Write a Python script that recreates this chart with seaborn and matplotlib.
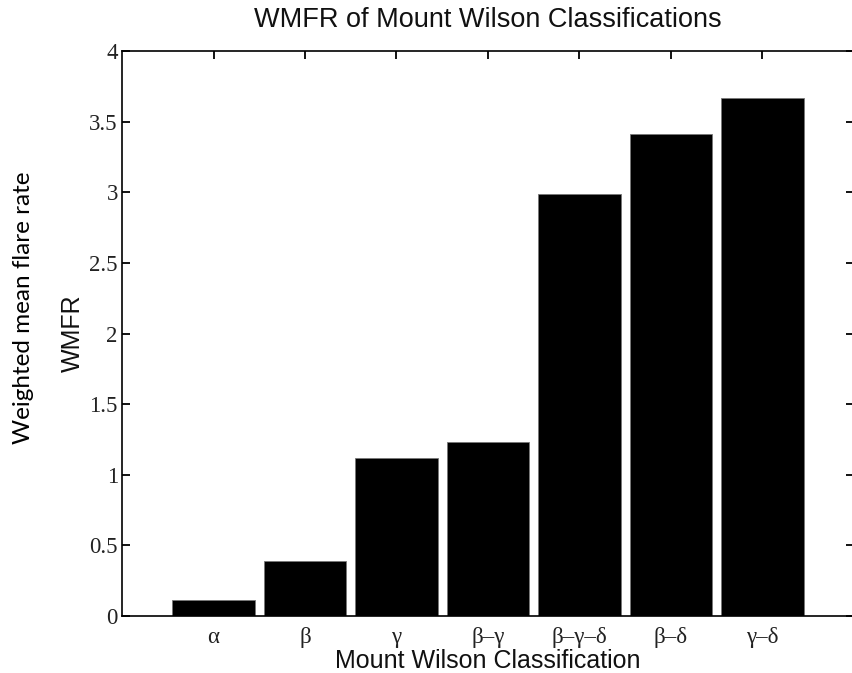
import numpy as np
import pandas as pd
import matplotlib
matplotlib.use('Agg')
import matplotlib.pyplot as plt
import seaborn as sns

sns.set_theme(style='white')

classes = ['α', 'β', 'γ', 'β–γ', 'β–γ–δ', 'β–δ', 'γ–δ']
wmfr = [0.113, 0.39, 1.12, 1.23, 2.99, 3.41, 3.67]

df = pd.DataFrame({'cls': classes, 'wmfr': wmfr})

fig = plt.figure(figsize=(8.52, 6.73), dpi=100)
ax = fig.add_axes([0.1432, 0.0847, 0.8591, 0.8395])

sns.barplot(data=df, x='cls', y='wmfr', order=classes, color='black',
            width=0.9, edgecolor='#777777', linewidth=0.6, saturation=1, ax=ax)

ax.set_xlim(-1, 7)
ax.set_ylim(0, 4)
ax.set_yticks(np.arange(0, 4.01, 0.5))
ax.set_yticklabels(['0', '0.5', '1', '1.5', '2', '2.5', '3', '3.5', '4'])

for s in ax.spines.values():
    s.set_color('black')
    s.set_linewidth(1.2)

ax.tick_params(direction='in', length=6, width=1.3, color='black',
               top=True, right=True, bottom=True, left=True)
ax.tick_params(axis='x', pad=8)
ax.tick_params(axis='y', pad=3)
for lab in ax.get_xticklabels() + ax.get_yticklabels():
    lab.set_family('Liberation Serif')
    lab.set_fontsize(16.5)
    lab.set_color('#222222')

ax.set_title('WMFR of Mount Wilson Classifications', family='Liberation Sans',
             fontsize=19.5, pad=17, color='#111111')
ax.set_xlabel('Mount Wilson Classification', family='Liberation Sans',
              fontsize=18, labelpad=1, color='#111111')
ax.set_ylabel('WMFR', family='Liberation Sans', fontsize=18, color='#111111')
ax.yaxis.set_label_coords(-0.051, 0.5)

fig.text(0.027, 0.542, 'Weighted mean flare rate', rotation=90, family='Lato',
         fontsize=17.5, ha='center', va='center', color='black')

fig.savefig('out.png', dpi=100)
